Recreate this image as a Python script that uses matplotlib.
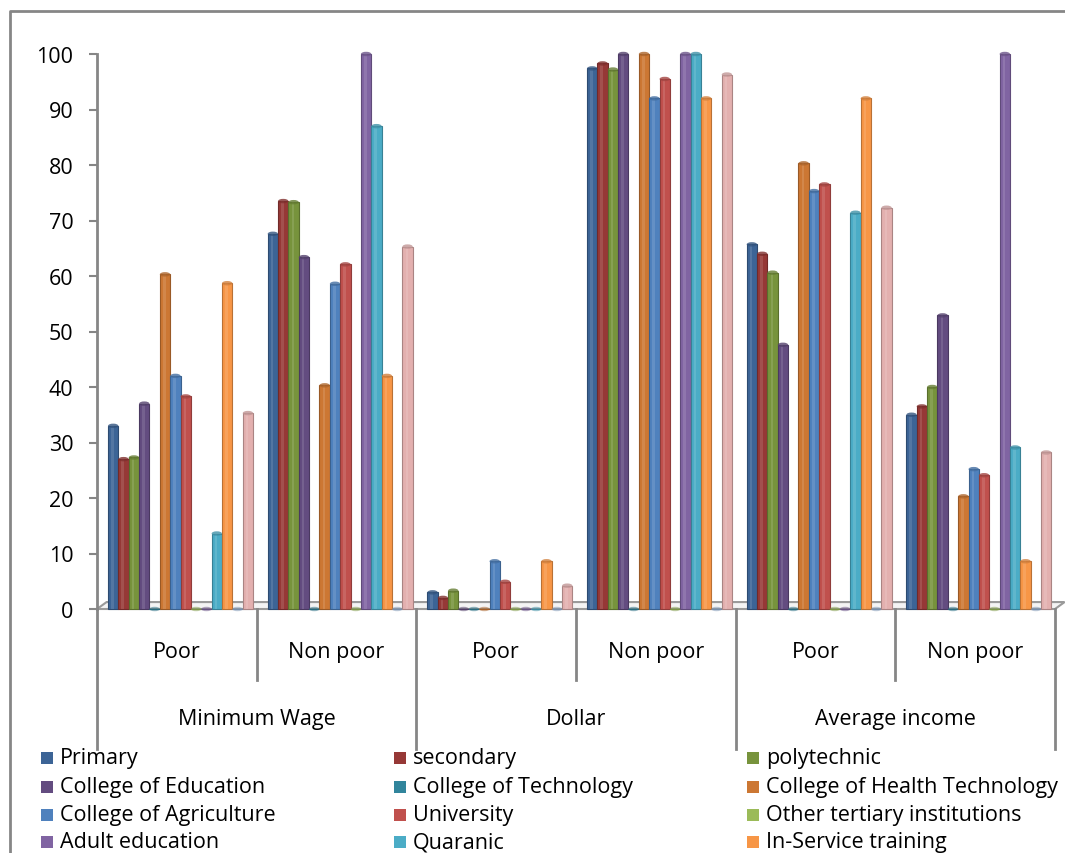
import numpy as np
import matplotlib.pyplot as plt
from matplotlib.patches import Ellipse, Rectangle, Polygon
from matplotlib.lines import Line2D
import matplotlib.transforms as mtransforms

plt.rcParams['font.family'] = ['Open Sans', 'DejaVu Sans']

# group / category labels
groups = ["Minimum Wage", "Dollar", "Average income"]
categories = ["Poor", "Non poor", "Poor", "Non poor", "Poor", "Non poor"]

series_names = ["Primary", "secondary", "polytechnic",
                "College of Education", "College of Technology", "College of Health Technology",
                "College of Agriculture", "University", "Other tertiary institutions",
                "Adult education", "Quaranic", "In-Service training"]

# percentages per category (MW poor, MW non poor, $ poor, $ non poor, AI poor, AI non poor)
primary = [33.0, 67.6, 3.0, 97.4, 65.7, 35.0]
secondary = [27.0, 73.5, 2.0, 98.3, 64.0, 36.5]
polytechnic = [27.3, 73.3, 3.3, 97.2, 60.6, 40.0]
coll_education = [37.0, 63.4, 0.0, 100.0, 47.6, 52.9]
coll_technology = [0.0, 0.0, 0.0, 0.0, 0.0, 0.0]
coll_health_tech = [60.3, 40.3, 0.0, 100.0, 80.3, 20.3]
coll_agriculture = [42.0, 58.6, 8.6, 92.0, 75.3, 25.2]
university = [38.3, 62.1, 4.9, 95.5, 76.5, 24.1]
other_tertiary = [0.0, 0.0, 0.0, 0.0, 0.0, 0.0]
adult_education = [0.0, 100.0, 0.0, 100.0, 0.0, 100.0]
quaranic = [13.6, 87.0, 0.0, 100.0, 71.4, 29.1]
in_service = [58.7, 42.0, 8.6, 92.0, 92.0, 8.6]
series13 = [0.0, 0.0, 0.0, 0.0, 0.0, 0.0]
series14 = [35.3, 65.3, 4.2, 96.3, 72.3, 28.2]

values = [primary, secondary, polytechnic, coll_education, coll_technology,
          coll_health_tech, coll_agriculture, university, other_tertiary,
          adult_education, quaranic, in_service, series13, series14]

colors = ["#3C6496", "#963836", "#77933C", "#634C80", "#31859C", "#CC7733",
          "#4F81BD", "#C0504D", "#9BBB59", "#8064A2", "#4BACC6", "#F79646",
          "#95B3D7", "#E3B0AF"]

FS = 15.5


def darker(c, f=0.75):
    r, g, b = plt.matplotlib.colors.to_rgb(c)
    return (r * f, g * f, b * f)


W, H = 1065, 854
fig = plt.figure(figsize=(W / 100, H / 100), dpi=100)
ax = fig.add_axes([97 / W, (H - 610) / H, 958 / W, 555 / H])
ax.set_xlim(-0.5, 5.5)
ax.set_ylim(0, 100)

bw = 0.0649
start = 0.069
x = np.arange(len(categories))

# floor of the pseudo-3D plot
floor = Polygon([(-0.5, 0), (5.5, 0), (5.56, 1.25), (-0.44, 1.25)], closed=True,
                facecolor="#F4F4F4", edgecolor="#9A9A9A", lw=1.5, zorder=1, clip_on=False)
ax.add_patch(floor)

for j, (vals, col) in enumerate(zip(values, colors)):
    left = x - 0.5 + start + j * bw
    ax.bar(left, vals, width=bw, align='edge', color=col,
           edgecolor=darker(col), linewidth=0.8, zorder=3, clip_on=False)
    # highlight strip for a rounded look
    ax.bar(left + bw * 0.3, vals, width=bw * 0.25, align='edge', color="white",
           alpha=0.12, linewidth=0, zorder=4, clip_on=False)
    for xi, v in zip(left, vals):
        ax.add_patch(Ellipse((xi + bw / 2, v), bw, 0.8, facecolor=darker(col, 0.85),
                             edgecolor="none", alpha=0.8 if v > 0 else 0.5,
                             zorder=5, clip_on=False))

for s in ["top", "right", "bottom"]:
    ax.spines[s].set_visible(False)
ax.spines["left"].set_color("#868686")
ax.spines["left"].set_linewidth(2)
ax.set_yticks(range(0, 101, 10))
ax.tick_params(axis='y', length=6, width=1.5, color="#868686", pad=11, labelsize=FS)
ax.set_xticks([])

# category labels and separators below the axis
trans = mtransforms.blended_transform_factory(ax.transData, fig.transFigure)
for i, lab in enumerate(categories):
    ax.text(i, (H - 653) / H, lab, transform=trans, ha="center", va="center", fontsize=FS)
for g, lab in enumerate(groups):
    ax.text(2 * g + 0.5, (H - 720) / H, lab, transform=trans, ha="center", va="center", fontsize=FS)
for k in range(7):
    xb = k - 0.5
    bottom = 750 if k % 2 == 0 else 681
    fig.add_artist(Line2D([xb, xb], [(H - 610) / H, (H - bottom) / H], transform=trans,
                          color="#868686", lw=2))

# legend, three columns
col_x = [41, 394, 747]
row_y = [759, 788, 816, 843]
for i, name in enumerate(series_names):
    cx = col_x[i % 3]
    cy = row_y[i // 3]
    fig.add_artist(Rectangle((cx / W, (H - cy - 6) / H), 12 / W, 12 / H,
                             transform=fig.transFigure, facecolor=colors[i], edgecolor="none"))
    fig.text((cx + 19) / W, (H - cy) / H, name, ha="left", va="center", fontsize=FS)

# chart area border
fig.add_artist(Line2D([10 / W, 10 / W, 1.0], [0.0, (H - 12) / H, (H - 12) / H],
                      transform=fig.transFigure, color="#868686", lw=2))

fig.savefig("out.png", dpi=100)
